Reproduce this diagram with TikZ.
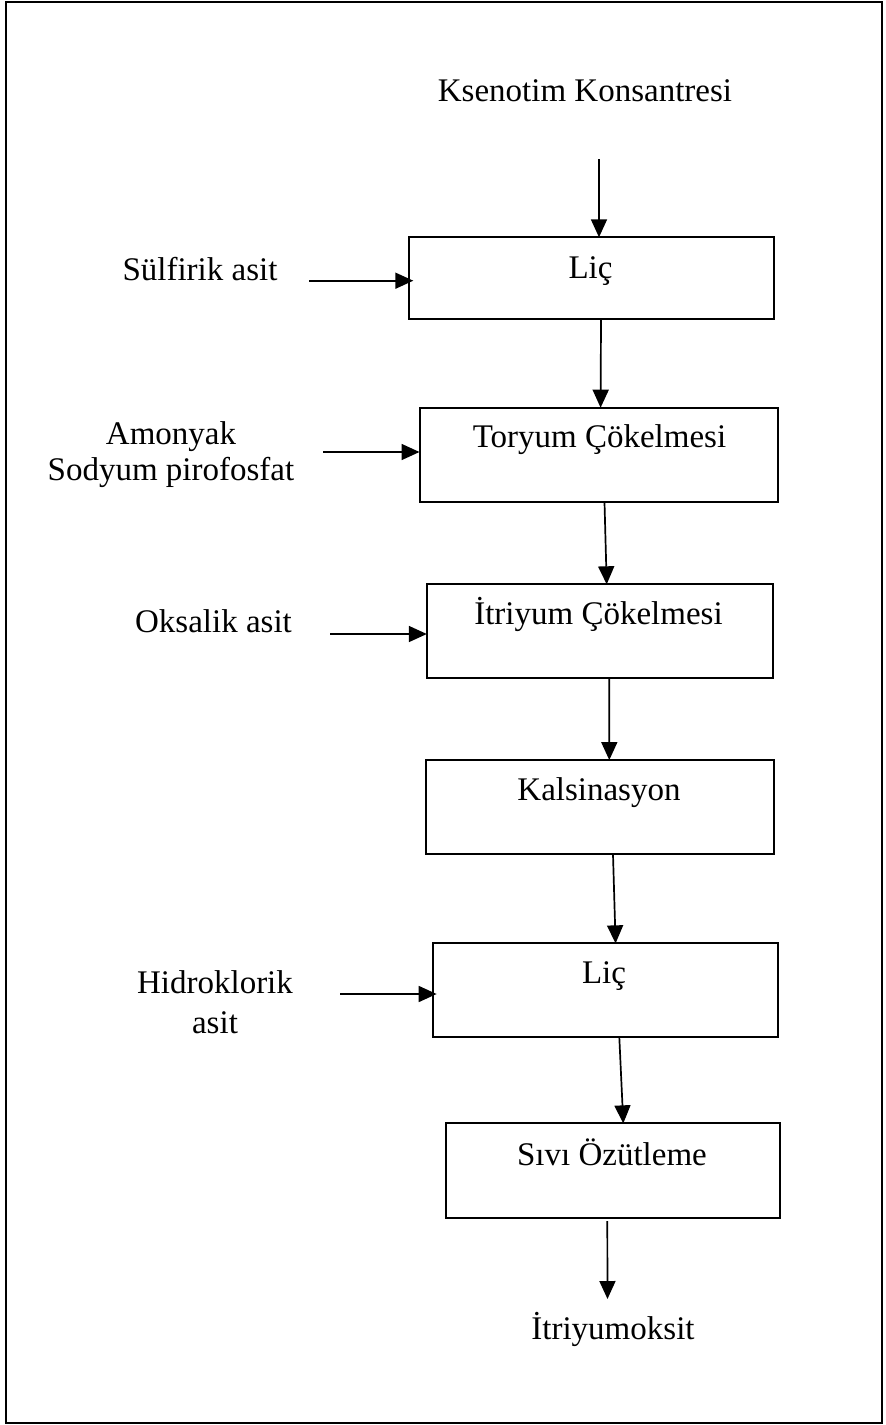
\documentclass[tikz,border=0pt]{standalone}
\usepackage{fontspec}
\setmainfont{Liberation Serif}
\usetikzlibrary{arrows.meta}
\begin{document}
\begin{tikzpicture}[x=1pt,y=-1pt,
  every node/.style={inner sep=0pt, outer sep=0pt},
  txt/.style={anchor=base, font=\fontsize{33}{38}\selectfont},
  twoline/.style={anchor=base, align=center, font=\fontsize{33}{#1}\selectfont},
  stepbox/.style={draw, rectangle, line width=2pt},
  flow/.style={line width=1.7pt, -{Triangle[length=18pt,width=16pt]}}
]
\useasboundingbox (0,0) rectangle (886,1425);
% frame
\draw[line width=2.5pt] (6,2) rectangle (882,1423);

% process steps
\node[stepbox, minimum width=364.7pt, minimum height=82pt]   (b1) at (591.65,278.3) {};
\node[stepbox, minimum width=358.2pt, minimum height=94.6pt] (b2) at (598.6,455) {};
\node[stepbox, minimum width=346.2pt, minimum height=94pt]   (b3) at (599.9,631.3) {};
\node[stepbox, minimum width=348pt,   minimum height=94.3pt] (b4) at (600,807.2) {};
\node[stepbox, minimum width=345.1pt, minimum height=93.7pt] (b5) at (605.2,990.2) {};
\node[stepbox, minimum width=334pt,   minimum height=94.7pt] (b6) at (613,1170.7) {};

% step titles
\node[txt] (t1) at (590.5,278.3) {Liç};
\node[txt] (t2) at (599.5,447.7) {Toryum Çökelmesi};
\node[txt] (t3) at (598.5,624) {İtriyum Çökelmesi};
\node[txt] (t4) at (599,800.7) {Kalsinasyon};
\node[txt] (t5) at (604,983) {Liç};
\node[txt] (t6) at (612,1165) {Sıvı Özütleme};

% feed, reagents and product (two-line labels sit on their last baseline)
\node[txt] (feed) at (585,101.7) {Ksenotim Konsantresi};
\node[txt] (r1) at (200,280.7) {Sülfirik asit};
\node[twoline=36.7pt] (r2) at (171,480.7) {Amonyak\\Sodyum pirofosfat};
\node[txt] (r3) at (213.5,632.3) {Oksalik asit};
\node[twoline=40pt] (r4) at (215,1033) {Hidroklorik\\asit};
\node[txt] (prod) at (613,1339) {İtriyumoksit};

% connector ends
\coordinate (feed-out) at (599,159);
\coordinate (r1-out) at (309,280.7);
\coordinate (r2-out) at (323,452);
\coordinate (r3-out) at (330,634);
\coordinate (r4-out) at (340,994);
\coordinate (prod-in) at (607.5,1299);

% main flow
\draw[flow] (feed-out) -- ([xshift=7.35pt]b1.north);
\draw[flow] ([xshift=9.35pt]b1.south) -- ([xshift=2pt]b2.north);
\draw[flow] ([xshift=5.9pt]b2.south) -- ([xshift=6.8pt]b3.north);
\draw[flow] ([xshift=9.4pt]b3.south) -- ([xshift=9.3pt]b4.north);
\draw[flow] ([xshift=13pt]b4.south) -- ([xshift=10.4pt]b5.north);
\draw[flow] ([xshift=14.1pt]b5.south) -- ([xshift=10.3pt]b6.north);
\draw[flow] ([xshift=-5.7pt,yshift=-3pt]b6.south) -- (prod-in);

% reagent inputs
\draw[flow] (r1-out) -- ([xshift=4pt]r1-out -| b1.west);
\draw[flow] (r2-out) -- (r2-out -| b2.west);
\draw[flow] (r3-out) -- (r3-out -| b3.west);
\draw[flow] (r4-out) -- ([xshift=4pt]r4-out -| b5.west);
\end{tikzpicture}
\end{document}
